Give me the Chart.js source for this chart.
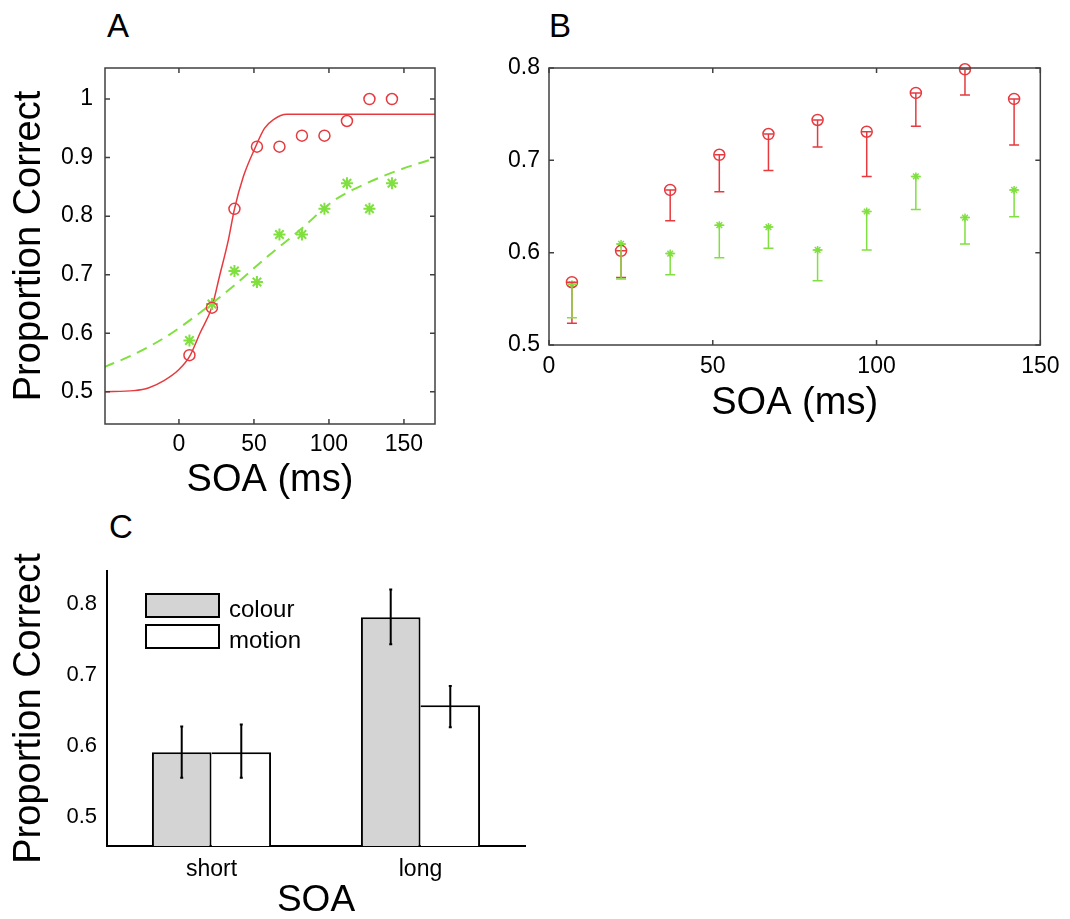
<!DOCTYPE html>
<html>
<head>
<meta charset="utf-8">
<script src="https://cdn.jsdelivr.net/npm/chart.js@4.4.1/dist/chart.umd.min.js"></script>
<style>
    body { margin: 0; background: #fff; }
    #wrap { position: relative; width: 1070px; height: 919px; overflow: hidden; }
    canvas { position: absolute; }
    .letter {
        position: absolute;
        font-family: "Liberation Sans", Arial, sans-serif;
        font-size: 33px;
        line-height: 33px;
        color: #000;
    }
</style>
</head>
<body>
<div id="wrap">
    <div class="letter" style="left:107px; top:9px;">A</div>
    <div class="letter" style="left:549px; top:9px;">B</div>
    <div class="letter" style="left:109px; top:510px;">C</div>
    <canvas id="chartA" width="450" height="500" style="left:0; top:0;"></canvas>
    <canvas id="chartB" width="600" height="430" style="left:470px; top:0;"></canvas>
    <canvas id="chartC" width="540" height="419" style="left:0; top:500px;"></canvas>
</div>

<script>
// SOA values (ms) shared by A and B
const soa = [7, 22, 37, 52, 67, 82, 97, 112, 127, 142];

// Panel A: proportion correct + fitted curves
const colourA = [0.5625, 0.6437, 0.8125, 0.9187, 0.9187, 0.9375, 0.9375, 0.9625, 1, 1];
const motionA = [0.5875, 0.65, 0.7062, 0.6875, 0.7687, 0.7687, 0.8125, 0.8562, 0.8125, 0.8562];
const colourFitX = [-50, -30, -20, -10, 0, 7, 14, 22, 27, 33, 37, 43, 51, 57, 63, 72, 171];
const colourFitY = [0.500, 0.502, 0.507, 0.519, 0.538, 0.56, 0.60, 0.645, 0.697, 0.76, 0.812, 0.868, 0.918, 0.95, 0.965, 0.974, 0.974];
const motionFitX = [-50, -30, -8, 14, 36, 59, 81, 103, 125, 147, 171];
const motionFitY = [0.542, 0.564, 0.595, 0.635, 0.68, 0.731, 0.777, 0.826, 0.856, 0.879, 0.899];
const ticksAx = [0, 50, 100, 150];
const ticksAy = [0.5, 0.6, 0.7, 0.8, 0.9, 1];

// Panel B: means with one-sided error bars (lower end)
const colourB = [0.568, 0.602, 0.668, 0.706, 0.7285, 0.7437, 0.731, 0.773, 0.7986, 0.7665];
const colourBLow = [0.5235, 0.573, 0.6345, 0.666, 0.689, 0.7144, 0.6826, 0.737, 0.7708, 0.7166];
const motionB = [0.5658, 0.6095, 0.599, 0.6298, 0.6277, 0.603, 0.6446, 0.6826, 0.638, 0.668];
const motionBLow = [0.5296, 0.5716, 0.576, 0.5944, 0.6049, 0.5697, 0.603, 0.6468, 0.6095, 0.6388];
const ticksBx = [0, 50, 100, 150];
const ticksBy = [0.5, 0.6, 0.7, 0.8];

// Panel C: short vs long SOA
const soaGroups = ["short", "long"];
const colourC = [0.591, 0.781];
const colourCLow = [0.555, 0.743];
const colourCHigh = [0.627, 0.820];
const motionC = [0.591, 0.657];
const motionCLow = [0.555, 0.626];
const motionCHigh = [0.630, 0.684];
const ticksCy = [0.5, 0.6, 0.7, 0.8];

const RED = "#e63a3f";
const GREEN = "#80e040";

Chart.defaults.font.family = '"Liberation Sans", Arial, sans-serif';
Chart.defaults.color = "#000";

function pts(xs, ys) {
    return xs.map((x, i) => ({ x: x, y: ys[i] }));
}

function fmt(v) {
    return String(Math.round(v * 10) / 10);
}

// box round the plot area with inward ticks (matlab style)
const framePlugin = {
    id: "frame",
    afterDraw(chart) {
        const { ctx, chartArea: a, scales } = chart;
        const x = scales.x, y = scales.y;
        ctx.save();
        ctx.strokeStyle = "#404040";
        ctx.lineWidth = 1.5;
        ctx.beginPath();
        x.ticks.forEach(t => {
            const px = x.getPixelForValue(t.value);
            ctx.moveTo(px, a.bottom); ctx.lineTo(px, a.bottom - 5);
            ctx.moveTo(px, a.top); ctx.lineTo(px, a.top + 5);
        });
        y.ticks.forEach(t => {
            const py = y.getPixelForValue(t.value);
            ctx.moveTo(a.left, py); ctx.lineTo(a.left + 5, py);
            ctx.moveTo(a.right, py); ctx.lineTo(a.right - 5, py);
        });
        ctx.stroke();
        ctx.strokeRect(a.left, a.top, a.right - a.left, a.bottom - a.top);
        ctx.restore();
    }
};

// vertical error bars, dataset.errLow / dataset.errHigh
const errorBarPlugin = {
    id: "errorBars",
    afterDatasetsDraw(chart, args, opts) {
        const ctx = chart.ctx;
        const y = chart.scales.y;
        chart.data.datasets.forEach((ds, i) => {
            if (!ds.errLow) return;
            const meta = chart.getDatasetMeta(i);
            ctx.save();
            ctx.strokeStyle = ds.errColor || ds.borderColor;
            ctx.lineWidth = opts.width;
            ctx.beginPath();
            meta.data.forEach((el, j) => {
                const lo = y.getPixelForValue(ds.errLow[j]);
                const hi = ds.errHigh ? y.getPixelForValue(ds.errHigh[j]) : el.y;
                const c = opts.cap / 2;
                ctx.moveTo(el.x, lo); ctx.lineTo(el.x, hi);
                ctx.moveTo(el.x - c, lo); ctx.lineTo(el.x + c, lo);
                ctx.moveTo(el.x - c, hi); ctx.lineTo(el.x + c, hi);
            });
            ctx.stroke();
            ctx.restore();
        });
    }
};

// legend boxes inside the plot (panel C)
const boxLegendPlugin = {
    id: "boxLegend",
    afterDraw(chart, args, opts) {
        const { ctx, chartArea: a } = chart;
        ctx.save();
        chart.data.datasets.forEach((ds, i) => {
            const bx = a.left + opts.x;
            const by = a.top + opts.y + i * (opts.h + opts.gap);
            ctx.fillStyle = ds.backgroundColor;
            ctx.fillRect(bx, by, opts.w, opts.h);
            ctx.strokeStyle = "#000";
            ctx.lineWidth = 2;
            ctx.strokeRect(bx, by, opts.w, opts.h);
            ctx.fillStyle = "#000";
            ctx.font = '24px "Liberation Sans", Arial, sans-serif';
            ctx.textBaseline = "alphabetic";
            ctx.fillText(ds.label, bx + opts.w + 10, by + opts.h);
        });
        ctx.restore();
    }
};

// ---------- Panel A ----------
new Chart(document.getElementById("chartA"), {
    type: "scatter",
    data: {
        datasets: [
            {
                label: "colour",
                data: pts(soa, colourA),
                pointStyle: "circle",
                pointRadius: 5.5,
                borderColor: RED,
                backgroundColor: "rgba(0,0,0,0)",
                borderWidth: 1.5
            },
            {
                label: "motion",
                data: pts(soa, motionA),
                pointStyle: "star",
                pointRadius: 6,
                borderColor: GREEN,
                backgroundColor: GREEN,
                borderWidth: 2
            },
            {
                label: "colour fit",
                data: pts(colourFitX, colourFitY),
                showLine: true,
                pointRadius: 0,
                borderColor: RED,
                borderWidth: 1.5,
                cubicInterpolationMode: "monotone"
            },
            {
                label: "motion fit",
                data: pts(motionFitX, motionFitY),
                showLine: true,
                pointRadius: 0,
                borderColor: GREEN,
                borderWidth: 2,
                borderDash: [11, 7],
                cubicInterpolationMode: "monotone"
            }
        ]
    },
    options: {
        responsive: false,
        animation: false,
        layout: { padding: { top: 68, right: 15, left: 0, bottom: 0 } },
        plugins: { legend: { display: false }, tooltip: { enabled: false } },
        scales: {
            x: {
                type: "linear",
                min: -49.3,
                max: 170.7,
                afterBuildTicks: s => { s.ticks = ticksAx.map(v => ({ value: v })); },
                afterFit: s => { s.height = 76; },
                grid: { display: false, drawTicks: false },
                border: { display: false },
                ticks: { padding: 9.5, font: { size: 23, lineHeight: 1 }, color: "#000", callback: v => String(v) },
                title: { display: true, text: "SOA (ms)", color: "#000", font: { size: 38, lineHeight: 1 }, padding: { top: 0, bottom: 0 } }
            },
            y: {
                min: 0.445,
                max: 1.053,
                afterBuildTicks: s => { s.ticks = ticksAy.map(v => ({ value: v })); },
                afterFit: s => { s.width = 105; },
                grid: { display: false, drawTicks: false },
                border: { display: false },
                ticks: { padding: 12, font: { size: 23, lineHeight: 1 }, color: "#000", callback: fmt },
                title: { display: true, text: "Proportion Correct", color: "#000", font: { size: 38, lineHeight: 1 }, padding: { top: 11, bottom: 0 } }
            }
        }
    },
    plugins: [framePlugin]
});

// ---------- Panel B ----------
new Chart(document.getElementById("chartB"), {
    type: "scatter",
    data: {
        datasets: [
            {
                label: "colour",
                data: pts(soa, colourB),
                errLow: colourBLow,
                pointStyle: "circle",
                pointRadius: 5.5,
                borderColor: RED,
                backgroundColor: "rgba(0,0,0,0)",
                borderWidth: 1.5,
                clip: false
            },
            {
                label: "motion",
                data: pts(soa, motionB),
                errLow: motionBLow,
                pointStyle: "star",
                pointRadius: 4,
                borderColor: GREEN,
                backgroundColor: GREEN,
                borderWidth: 1.5,
                clip: false
            }
        ]
    },
    options: {
        responsive: false,
        animation: false,
        layout: { padding: { top: 68, right: 24, left: 0, bottom: 0 } },
        plugins: {
            legend: { display: false },
            tooltip: { enabled: false },
            errorBars: { width: 1.5, cap: 10 }
        },
        scales: {
            x: {
                type: "linear",
                min: 0,
                max: 150,
                afterBuildTicks: s => { s.ticks = ticksBx.map(v => ({ value: v })); },
                afterFit: s => { s.height = 85; },
                grid: { display: false, drawTicks: false },
                border: { display: false },
                ticks: { padding: 10.5, font: { size: 23, lineHeight: 1 }, color: "#000", callback: v => String(v) },
                title: { display: true, text: "SOA (ms)", color: "#000", font: { size: 38, lineHeight: 1 }, padding: { top: 0, bottom: 7 } }
            },
            y: {
                min: 0.5,
                max: 0.8,
                afterBuildTicks: s => { s.ticks = ticksBy.map(v => ({ value: v })); },
                afterFit: s => { s.width = 79; },
                grid: { display: false, drawTicks: false },
                border: { display: false },
                ticks: { padding: 9, font: { size: 23, lineHeight: 1 }, color: "#000", callback: fmt }
            }
        }
    },
    plugins: [framePlugin, errorBarPlugin]
});

// ---------- Panel C ----------
new Chart(document.getElementById("chartC"), {
    type: "bar",
    data: {
        labels: soaGroups,
        datasets: [
            {
                label: "colour",
                data: colourC,
                errLow: colourCLow,
                errHigh: colourCHigh,
                errColor: "#000",
                backgroundColor: "#d4d4d4",
                borderColor: "#000",
                borderWidth: { top: 2, left: 2, right: 2, bottom: 0 },
                borderSkipped: false
            },
            {
                label: "motion",
                data: motionC,
                errLow: motionCLow,
                errHigh: motionCHigh,
                errColor: "#000",
                backgroundColor: "#ffffff",
                borderColor: "#000",
                borderWidth: { top: 2, left: 0, right: 2, bottom: 0 },
                borderSkipped: false
            }
        ]
    },
    options: {
        responsive: false,
        animation: false,
        categoryPercentage: 0.57,
        barPercentage: 1.0,
        layout: { padding: { top: 71, right: 15, left: 0, bottom: 0 } },
        plugins: {
            legend: { display: false },
            tooltip: { enabled: false },
            errorBars: { width: 2, cap: 3 },
            boxLegend: { x: 39, y: 23, w: 73, h: 23, gap: 8 }
        },
        scales: {
            x: {
                afterFit: s => { s.height = 73; },
                grid: { display: false, drawTicks: false },
                border: { display: true, color: "#000", width: 2 },
                ticks: { padding: 12.5, font: { size: 23, lineHeight: 1 }, color: "#000" },
                title: { display: true, text: "SOA", color: "#000", font: { size: 37, lineHeight: 1 }, padding: { top: 0, bottom: 0 } }
            },
            y: {
                min: 0.459,
                max: 0.846,
                afterBuildTicks: s => { s.ticks = ticksCy.map(v => ({ value: v })); },
                afterFit: s => { s.width = 107; },
                grid: { display: false, drawTicks: false },
                border: { display: true, color: "#000", width: 2 },
                ticks: { padding: 10, font: { size: 22, lineHeight: 1 }, color: "#000", callback: fmt },
                title: { display: true, text: "Proportion Correct", color: "#000", font: { size: 38, lineHeight: 1 }, padding: { top: 11, bottom: 0 } }
            }
        }
    },
    plugins: [errorBarPlugin, boxLegendPlugin]
});
</script>
</body>
</html>
